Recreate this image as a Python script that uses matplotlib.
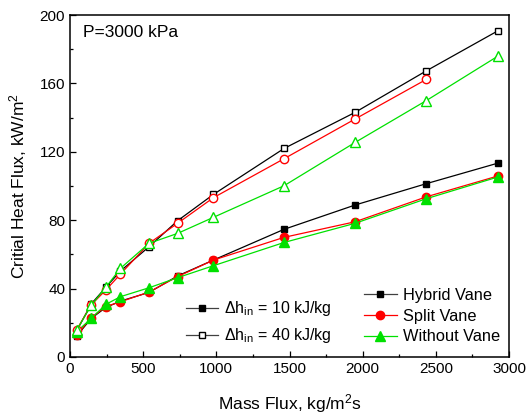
import matplotlib
matplotlib.use("Agg")
import matplotlib.pyplot as plt
from matplotlib.lines import Line2D

plt.rcParams["font.family"] = ["Liberation Sans", "DejaVu Sans"]
plt.rcParams["mathtext.fontset"] = "custom"
plt.rcParams["mathtext.rm"] = "Liberation Sans"
plt.rcParams["mathtext.it"] = "Liberation Sans:italic"

# mass flux, kg/m2s
G = [46, 145, 245, 345, 540, 735, 980, 1463, 1948, 2435, 2928]

# critical heat flux, kW/m2  (dh_in = 10 kJ/kg)
hybrid_10 = [12.3, 22.6, 29.0, 32.7, 37.8, 47.4, 56.7, 74.7, 88.9, 101.4, 113.5]
split_10 = [13.0, 23.0, 29.5, 32.3, 38.0, 47.0, 56.7, 70.0, 79.1, 93.7, 106.0]
without_10 = [14.8, 22.6, 30.8, 35.3, 40.5, 46.4, 53.4, 67.0, 78.2, 92.6, 105.4]

# dh_in = 40 kJ/kg
hybrid_40 = [15.4, 31.0, 40.8, 50.3, 64.5, 79.7, 95.1, 122.0, 143.1, 167.4, 191.0]
split_40 = [16.0, 30.5, 39.2, 48.5, 66.5, 78.2, 93.2, 116.0, 139.2, 162.4]
without_40 = [15.8, 30.2, 40.8, 51.9, 66.5, 72.3, 81.7, 100.2, 125.5, 150.0, 176.2]

BLACK, RED, GREEN = "black", "#ff0000", "#00e000"
ms = 5

fig = plt.figure(figsize=(5.28, 4.2), dpi=100)
ax = fig.add_axes([0.1326, 0.15, 0.8314, 0.814])

ax.plot(G, hybrid_10, color=BLACK, lw=0.9, marker="s", ms=ms, mfc=BLACK, mec=BLACK)
ax.plot(G, split_10, color=RED, lw=0.9, marker="o", ms=ms + 1, mfc=RED, mec=RED)
ax.plot(G, without_10, color=GREEN, lw=0.9, marker="^", ms=ms + 1.5, mfc=GREEN, mec=GREEN)

ax.plot(G, hybrid_40, color=BLACK, lw=0.9, marker="s", ms=ms, mfc="white", mec=BLACK)
ax.plot(G[:len(split_40)], split_40, color=RED, lw=0.9, marker="o", ms=ms + 1, mfc="white", mec=RED)
ax.plot(G, without_40, color=GREEN, lw=0.9, marker="^", ms=ms + 2, mfc="white", mec=GREEN)

ax.set_xlim(0, 3000)
ax.set_ylim(0, 200)
ax.set_xticks(range(0, 3001, 500))
ax.set_xticks(range(250, 3000, 500), minor=True)
ax.set_yticks(range(0, 201, 40))
ax.set_yticks(range(20, 200, 40), minor=True)
ax.tick_params(which="both", direction="in", top=False, right=False, labelsize=11)
ax.tick_params(which="major", length=4, width=0.9)
ax.tick_params(which="minor", length=2.5, width=0.9)
for s in ax.spines.values():
    s.set_linewidth(1.1)

ax.set_xlabel("Mass Flux, kg/m$^2$s", fontsize=12.5, labelpad=12)
ax.set_ylabel("Critial Heat Flux, kW/m$^2$", fontsize=12.5, labelpad=8)
ax.text(0.03, 0.97, "P=3000 kPa", transform=ax.transAxes, fontsize=12.5, va="top", ha="left")

h_leg = [
    Line2D([], [], color="#404040", lw=0.9, marker="s", ms=ms, mfc=BLACK, mec=BLACK),
    Line2D([], [], color="#404040", lw=0.9, marker="s", ms=ms, mfc="white", mec=BLACK),
]
leg1 = ax.legend(h_leg, [r"$\Delta$h$_{\rm in}$ = 10 kJ/kg", r"$\Delta$h$_{\rm in}$ = 40 kJ/kg"],
                 loc="lower left", bbox_to_anchor=(0.25, 0.015), frameon=False, fontsize=11.5,
                 handlelength=2.0, handletextpad=0.4, labelspacing=0.5, borderaxespad=0)
ax.add_artist(leg1)

v_leg = [
    Line2D([], [], color="#404040", lw=0.9, marker="s", ms=ms, mfc=BLACK, mec=BLACK),
    Line2D([], [], color=RED, lw=0.9, marker="o", ms=ms + 1, mfc=RED, mec=RED),
    Line2D([], [], color=GREEN, lw=0.9, marker="^", ms=ms + 1.5, mfc=GREEN, mec=GREEN),
]
ax.legend(v_leg, ["Hybrid Vane", "Split Vane", "Without Vane"],
          loc="lower right", bbox_to_anchor=(0.995, 0.018), frameon=False, fontsize=11.8,
          handlelength=2.0, handletextpad=0.4, labelspacing=0.35, borderaxespad=0)

fig.savefig("out.png", dpi=100)
